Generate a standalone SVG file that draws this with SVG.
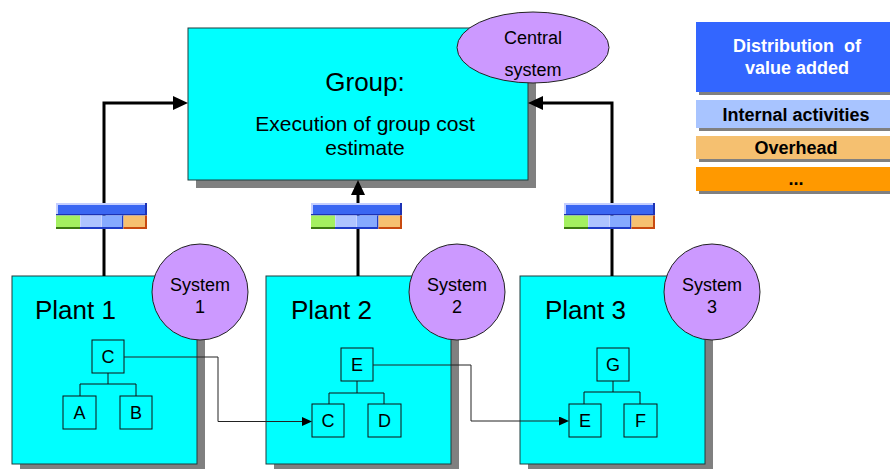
<svg xmlns="http://www.w3.org/2000/svg" xmlns:xlink="http://www.w3.org/1999/xlink" width="890" height="469" viewBox="0 0 890 469">
<style>
text{font-family:"Liberation Sans",Arial,sans-serif;fill:#000}
.box{fill:#00ffff;stroke:#1e3c3c;stroke-width:1}
.shadow{fill:#808080}
.sys{fill:#cc99ff;stroke:#222;stroke-width:1}
.node{fill:none;stroke:#111;stroke-width:1}
.big{font-size:26px}
.mid{font-size:21px;text-anchor:middle}
.small{font-size:18px;text-anchor:middle}
.thick{fill:none;stroke:#000;stroke-width:3}
.thin{fill:none;stroke:#222;stroke-width:1}
.leg{font-size:18px;font-weight:bold;text-anchor:middle}
</style>
<defs>
<marker id="ah" markerUnits="userSpaceOnUse" markerWidth="16" markerHeight="15" refX="0" refY="7" orient="auto">
<path d="M0,0 L15,7 L0,14 z" fill="#000"/>
</marker>
<marker id="as" markerUnits="userSpaceOnUse" markerWidth="11" markerHeight="10" refX="0" refY="4.5" orient="auto">
<path d="M0,0 L10,4.5 L0,9 z" fill="#000"/>
</marker>
<g id="bar">
<rect x="0" y="0" width="91" height="12" fill="#3a66f2"/>
<rect x="0" y="0" width="89" height="2" fill="#c4ceff"/>
<rect x="0" y="0" width="2" height="11" fill="#c4ceff"/>
<rect x="89" y="0" width="2" height="12" fill="#1c32b4"/>
<rect x="0" y="11" width="91" height="1.5" fill="#1c32b4"/>
<rect x="0" y="12.5" width="24" height="13.5" fill="#a4f060"/>
<rect x="0" y="24" width="24" height="2" fill="#3c7a10"/>
<rect x="24" y="12.5" width="21" height="13.5" fill="#aec4ff"/>
<rect x="45" y="12.5" width="22" height="13.5" fill="#86aaff"/>
<rect x="45" y="12.5" width="1" height="12" fill="#c8d4ff"/>
<rect x="24" y="12.5" width="1" height="12" fill="#c8d4ff"/>
<rect x="24" y="24" width="43" height="2" fill="#1e3cc8"/>
<rect x="66" y="12.5" width="1.5" height="13.5" fill="#1e3cc8"/>
<rect x="67.5" y="12.5" width="23.5" height="13.5" fill="#f6c070"/>
<rect x="67.5" y="24" width="23.5" height="2" fill="#c84a10"/>
<rect x="89" y="12.5" width="2" height="13.5" fill="#c84a10"/>
</g>
</defs>

<g id="legend">
<rect class="shadow" x="699" y="25" width="194" height="70"/>
<rect x="696" y="22" width="194" height="70" fill="#3366ff"/>
<text class="leg" x="797" y="52" style="fill:#fff;white-space:pre">Distribution  of</text>
<text class="leg" x="797" y="74" style="fill:#fff">value added</text>
<rect class="shadow" x="699" y="103" width="194" height="28"/>
<rect x="696" y="100" width="194" height="28" fill="#a8c4ff"/>
<text class="leg" x="796" y="121">Internal activities</text>
<rect class="shadow" x="699" y="139" width="194" height="23"/>
<rect x="696" y="136" width="194" height="23" fill="#f5c070"/>
<text class="leg" x="796" y="154">Overhead</text>
<rect class="shadow" x="699" y="170" width="194" height="24"/>
<rect x="696" y="167" width="194" height="24" fill="#ff9900"/>
<text class="leg" x="796" y="185">...</text>
</g>

<g id="group">
<rect class="shadow" x="196" y="36" width="340" height="152"/>
<rect class="box" x="188" y="28" width="340" height="152"/>
<text class="mid" x="365" y="91" style="font-size:26px">Group:</text>
<text class="mid" x="365" y="131">Execution of group cost</text>
<text class="mid" x="365" y="155">estimate</text>
</g>

<g id="central-system">
<ellipse class="sys" cx="533" cy="47.5" rx="76" ry="35.5"/>
<text class="small" x="533" y="44">Central</text>
<text class="small" x="533" y="76">system</text>
</g>

<g id="plant1">
<rect class="shadow" x="20" y="284" width="185" height="188"/>
<rect class="box" x="12" y="276" width="185" height="188"/>
<text class="big" x="35" y="319">Plant 1</text>
<rect class="node" x="92" y="340" width="32" height="33"/>
<text class="small" x="108" y="363">C</text>
<rect class="node" x="63" y="396" width="33" height="33"/>
<text class="small" x="79.5" y="419">A</text>
<rect class="node" x="120" y="396" width="32" height="33"/>
<text class="small" x="136" y="419">B</text>
<path class="node" d="M108,373 V384 M80,396 V384 H136 V396"/>
</g>
<g id="system1">
<circle class="sys" cx="200" cy="292" r="48"/>
<text class="small" x="200" y="291">System</text>
<text class="small" x="200" y="313">1</text>
</g>

<g id="plant2">
<rect class="shadow" x="274" y="284" width="185" height="188"/>
<rect class="box" x="266" y="276" width="185" height="188"/>
<text class="big" x="291" y="319">Plant 2</text>
<rect class="node" x="341" y="348" width="32" height="33"/>
<text class="small" x="357" y="371">E</text>
<rect class="node" x="312" y="404" width="32" height="33"/>
<text class="small" x="328" y="427">C</text>
<rect class="node" x="368" y="404" width="33" height="33"/>
<text class="small" x="384.5" y="427">D</text>
<path class="node" d="M357,381 V393 M329,404 V393 H384 V404"/>
</g>
<g id="system2">
<circle class="sys" cx="457" cy="292" r="48"/>
<text class="small" x="457" y="291">System</text>
<text class="small" x="457" y="313">2</text>
</g>

<g id="plant3">
<rect class="shadow" x="528" y="284" width="185" height="188"/>
<rect class="box" x="520" y="276" width="185" height="188"/>
<text class="big" x="545" y="319">Plant 3</text>
<rect class="node" x="597" y="348" width="32" height="33"/>
<text class="small" x="613" y="371">G</text>
<rect class="node" x="569" y="404" width="32" height="33"/>
<text class="small" x="585" y="427">E</text>
<rect class="node" x="624" y="404" width="33" height="33"/>
<text class="small" x="640.5" y="427">F</text>
<path class="node" d="M613,381 V392 M584,404 V392 H640 V404"/>
</g>
<g id="system3">
<circle class="sys" cx="712" cy="292" r="48"/>
<text class="small" x="712" y="291">System</text>
<text class="small" x="712" y="313">3</text>
</g>

<g id="connectors">
<path class="thick" d="M104,276 V103 H173" marker-end="url(#ah)"/>
<path class="thick" d="M358,276 V195" marker-end="url(#ah)"/>
<path class="thick" d="M612,276 V103 H543" marker-end="url(#ah)"/>
<path class="thin" d="M124,357 H218 V421.5 H302" marker-end="url(#as)"/>
<path class="thin" d="M373,365 H471 V421 H559" marker-end="url(#as)"/>
<use xlink:href="#bar" x="56" y="203"/>
<use xlink:href="#bar" x="311" y="203"/>
<use xlink:href="#bar" x="564" y="203"/>
</g>
</svg>
